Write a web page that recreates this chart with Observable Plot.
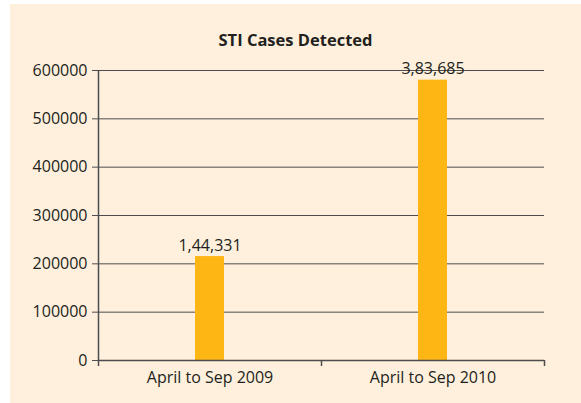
<!DOCTYPE html>
<html>
<head>
<meta charset="utf-8">
<script src="https://cdn.jsdelivr.net/npm/d3@7"></script>
<script src="https://cdn.jsdelivr.net/npm/@observablehq/plot@0.6"></script>
<style>
  html, body { margin: 0; padding: 0; background: #ffffff; }
  #panel { position: absolute; left: 10px; top: 4px; width: 571px; height: 399px; background: #FEF0DC; overflow: hidden; }
  #title { height: 52px; line-height: 72px; text-align: center; font-family: "Open Sans", sans-serif; font-weight: bold; font-size: 16.5px; color: #231F20; }
  svg { display: block; }
</style>
</head>
<body>
<div id="panel"><div id="title">STI Cases Detected</div></div>
<script>
const categories = ["April to Sep 2009", "April to Sep 2010"];
const values = [215000, 580000];
const valueLabels = ["1,44,331", "3,83,685"];
const yTicks = [0, 100000, 200000, 300000, 400000, 500000, 600000];

const data = categories.map((c, i) => ({category: c, value: values[i], label: valueLabels[i]}));

const W = 571, H = 347, ML = 88, MR = 37, MT = 14, MB = 43;
const band = (W - ML - MR) / categories.length;
const ink = "#231F20";
const lineCol = "#4D4D4F";

const chart = Plot.plot({
  width: W,
  height: H,
  marginLeft: ML,
  marginRight: MR,
  marginTop: MT,
  marginBottom: MB,
  style: {background: "transparent", fontFamily: "'Open Sans', sans-serif", fontSize: "16px", color: ink, overflow: "visible"},
  x: {domain: categories, paddingInner: 0.87, paddingOuter: 0.435, align: 0.5, label: null},
  y: {domain: [0, 600000], label: null},
  marks: [
    Plot.ruleY(yTicks.slice(1), {stroke: lineCol, strokeWidth: 1}),
    Plot.barY(data, {x: "category", y: "value", fill: "#FDB614"}),
    Plot.ruleY([0], {stroke: lineCol, strokeWidth: 1.5}),
    Plot.ruleX([categories[0]], {x: d => d, dx: -band / 2, y1: 0, y2: 600000, stroke: lineCol, strokeWidth: 1.5}),
    Plot.ruleX(categories, {x: d => d, dx: band / 2, y1: 0, y2: -12500, stroke: lineCol, strokeWidth: 1.5}),
    Plot.ruleX([categories[0]], {x: d => d, dx: -band / 2, y1: 0, y2: -12500, stroke: lineCol, strokeWidth: 1.5}),
    Plot.axisY({ticks: yTicks, tickFormat: d => String(d), tickSize: 6, tickPadding: 5, stroke: lineCol, fill: ink, fontSize: 16}),
    Plot.axisX({tickSize: 0, tickPadding: 11, fill: ink, fontSize: 16}),
    Plot.text(data, {x: "category", y: "value", text: "label", dy: -11, fill: ink, fontSize: 16})
  ]
});
document.getElementById("panel").appendChild(chart);
</script>
</body>
</html>
